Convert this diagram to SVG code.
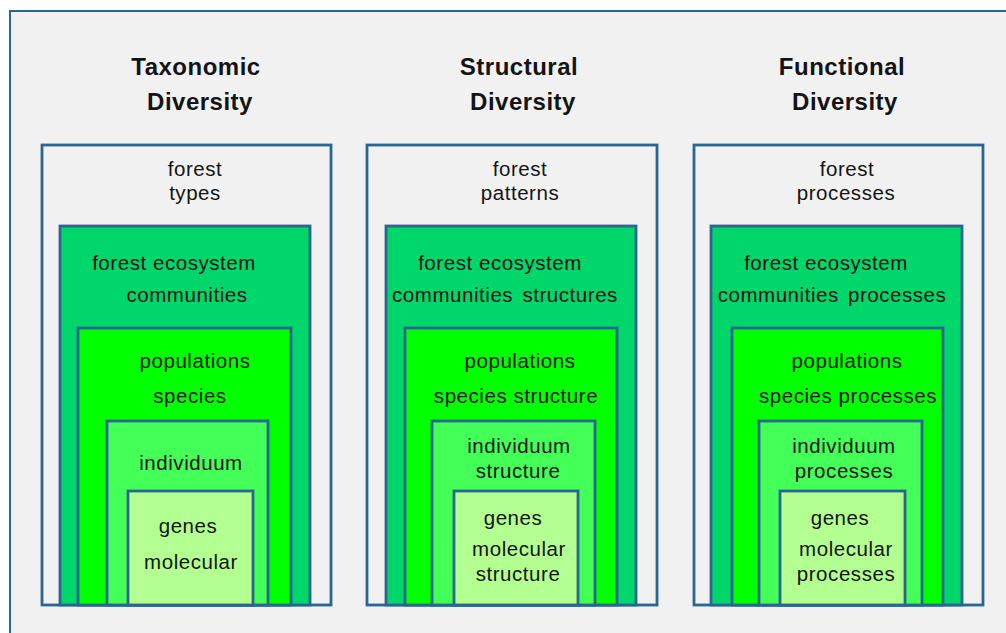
<svg xmlns="http://www.w3.org/2000/svg" width="1006" height="633" viewBox="0 0 1006 633">
  <style>
    .bg { fill: #ffffff; }
    .frame { fill: #f1f1f1; stroke: #2b6591; stroke-width: 2; }
    .col { fill: #f1f1f1; stroke: #2b6591; stroke-width: 2.8; }
    .g1 { fill: #00d66a; stroke: #2b6591; stroke-width: 2.8; }
    .g2 { fill: #00ff00; stroke: #2b6591; stroke-width: 2.8; }
    .g3 { fill: #44ff58; stroke: #2b6591; stroke-width: 2.8; }
    .g4 { fill: #b4ff92; stroke: #2b6591; stroke-width: 2.8; }
    text { font-family: "Liberation Sans", Arial, sans-serif; fill: #141414; text-anchor: middle; }
    .title { font-size: 24px; font-weight: bold; letter-spacing: 0.5px; }
    .lbl { font-size: 20.5px; letter-spacing: 0.55px; }
    .wide { word-spacing: 3px; }
  </style>

  <rect class="bg" x="0" y="0" width="1006" height="633"/>
  <rect class="frame" x="10" y="11" width="1010" height="640"/>

  <!-- Taxonomic diversity column -->
  <g id="taxonomic">
    <text class="title" x="196" y="75">Taxonomic</text>
    <text class="title" x="200" y="110">Diversity</text>
    <g id="tax-forest-types">
      <rect class="col" x="42" y="145" width="289" height="460"/>
      <text class="lbl" x="195" y="176">forest</text>
      <text class="lbl" x="195" y="200">types</text>
    </g>
    <g id="tax-ecosystem">
      <rect class="g1" x="60" y="226" width="250" height="379"/>
      <text class="lbl" x="174" y="270">forest ecosystem</text>
      <text class="lbl" x="187" y="302">communities</text>
    </g>
    <g id="tax-populations">
      <rect class="g2" x="78" y="328" width="213" height="277"/>
      <text class="lbl" x="195" y="368">populations</text>
      <text class="lbl" x="190" y="403">species</text>
    </g>
    <g id="tax-individuum">
      <rect class="g3" x="107" y="421" width="161" height="184"/>
      <text class="lbl" x="191" y="470">individuum</text>
    </g>
    <g id="tax-genes">
      <rect class="g4" x="128" y="491" width="125" height="114"/>
      <text class="lbl" x="188" y="533">genes</text>
      <text class="lbl" x="191" y="569">molecular</text>
    </g>
  </g>

  <!-- Structural diversity column -->
  <g id="structural">
    <text class="title" x="519" y="75">Structural</text>
    <text class="title" x="523" y="110">Diversity</text>
    <g id="str-forest-patterns">
      <rect class="col" x="367" y="145" width="290" height="460"/>
      <text class="lbl" x="520" y="176">forest</text>
      <text class="lbl" x="520" y="200">patterns</text>
    </g>
    <g id="str-ecosystem">
      <rect class="g1" x="386" y="226" width="250" height="379"/>
      <text class="lbl" x="500" y="270">forest ecosystem</text>
      <text class="lbl wide" x="505" y="302">communities structures</text>
    </g>
    <g id="str-populations">
      <rect class="g2" x="405" y="328" width="212" height="277"/>
      <text class="lbl" x="520" y="368">populations</text>
      <text class="lbl" x="516" y="403">species structure</text>
    </g>
    <g id="str-individuum">
      <rect class="g3" x="432" y="421" width="163" height="184"/>
      <text class="lbl" x="519" y="453">individuum</text>
      <text class="lbl" x="518" y="478">structure</text>
    </g>
    <g id="str-genes">
      <rect class="g4" x="454" y="491" width="124" height="114"/>
      <text class="lbl" x="513" y="525">genes</text>
      <text class="lbl" x="519" y="556">molecular</text>
      <text class="lbl" x="518" y="581">structure</text>
    </g>
  </g>

  <!-- Functional diversity column -->
  <g id="functional">
    <text class="title" x="842" y="75">Functional</text>
    <text class="title" x="845" y="110">Diversity</text>
    <g id="fun-forest-processes">
      <rect class="col" x="694" y="145" width="289" height="460"/>
      <text class="lbl" x="847" y="176">forest</text>
      <text class="lbl" x="846" y="200">processes</text>
    </g>
    <g id="fun-ecosystem">
      <rect class="g1" x="711" y="226" width="251" height="379"/>
      <text class="lbl" x="826" y="270">forest ecosystem</text>
      <text class="lbl wide" x="832" y="302">communities processes</text>
    </g>
    <g id="fun-populations">
      <rect class="g2" x="732" y="328" width="211" height="277"/>
      <text class="lbl" x="847" y="368">populations</text>
      <text class="lbl" x="848" y="403">species processes</text>
    </g>
    <g id="fun-individuum">
      <rect class="g3" x="759" y="421" width="163" height="184"/>
      <text class="lbl" x="844" y="453">individuum</text>
      <text class="lbl" x="844" y="478">processes</text>
    </g>
    <g id="fun-genes">
      <rect class="g4" x="780" y="491" width="125" height="114"/>
      <text class="lbl" x="840" y="525">genes</text>
      <text class="lbl" x="846" y="556">molecular</text>
      <text class="lbl" x="846" y="581">processes</text>
    </g>
  </g>

  <!-- no connectors in this diagram -->
  <g id="connectors"/>
</svg>
